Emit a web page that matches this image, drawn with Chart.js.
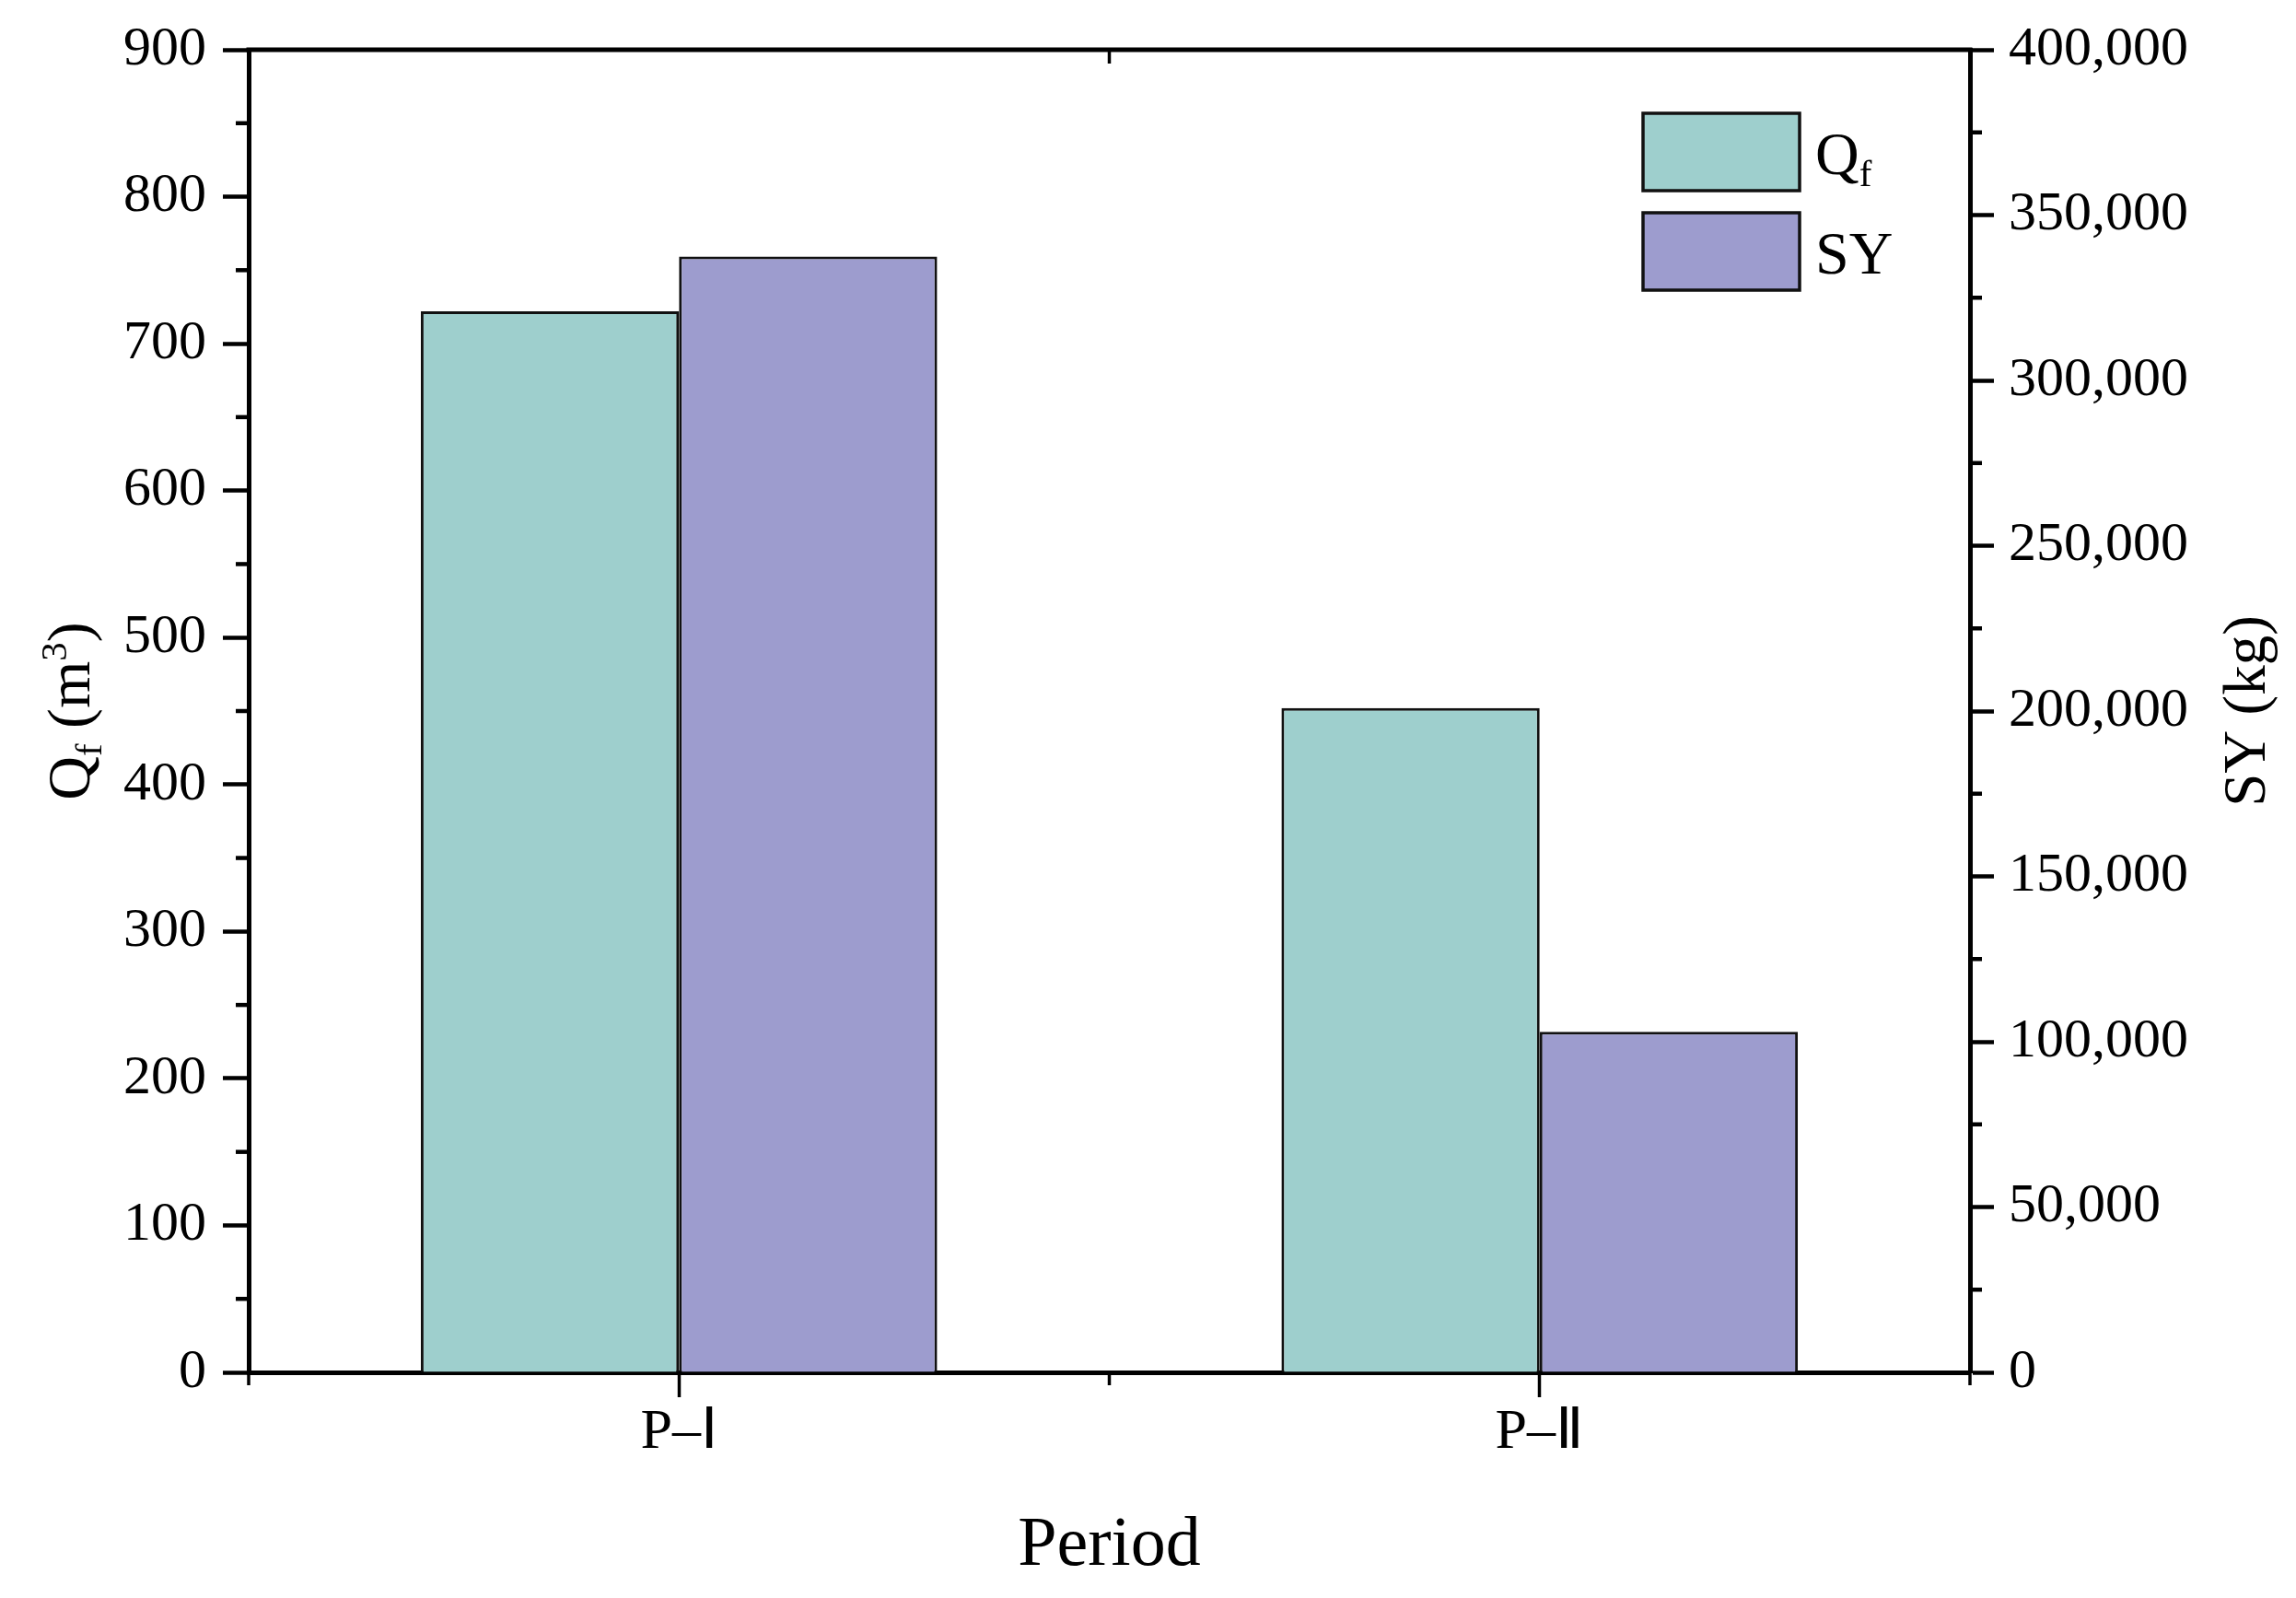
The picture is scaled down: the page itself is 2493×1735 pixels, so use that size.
<!DOCTYPE html>
<html lang="en">
<head>
  <meta charset="UTF-8">
  <title>Qf and SY by period</title>
  <script src="https://cdn.jsdelivr.net/npm/chart.js"></script>
  <style>
    body { margin: 0; background: #ffffff; }
    #wrap { width: 2493px; height: 1735px; position: relative; }
  </style>
</head>
<body>
  <div id="wrap"><canvas id="chart"></canvas></div>

  <script>
    // data
    const periods = ['P\u2013\u2160', 'P\u2013\u2161'];
    const qfValues = [722, 452];          // m3
    const syValues = [337500, 103000];    // kg

    // tick values for both value axes
    const qfTicks = [0, 100, 200, 300, 400, 500, 600, 700, 800, 900];
    const qfMinor = [50, 150, 250, 350, 450, 550, 650, 750, 850];
    const syTicks = [0, 50000, 100000, 150000, 200000, 250000, 300000, 350000, 400000];
    const syMinor = [25000, 75000, 125000, 175000, 225000, 275000, 325000, 375000];

    const FONT = '"Liberation Serif", "Times New Roman", serif';
    const TEAL = '#9ecfcd';
    const PURPLE = '#9d9cce';

    function line(ctx, x1, y1, x2, y2) {
      ctx.beginPath();
      ctx.moveTo(x1, y1);
      ctx.lineTo(x2, y2);
      ctx.stroke();
    }

    // text with sub/superscript pieces
    function richWidth(ctx, parts, size) {
      let w = 0;
      parts.forEach(p => {
        ctx.font = `${p.sub || p.sup ? size * 0.62 : size}px ${FONT}`;
        w += ctx.measureText(p.t).width;
      });
      return w;
    }
    function drawRich(ctx, parts, x, y, size) {
      let cx = x;
      parts.forEach(p => {
        ctx.font = `${p.sub || p.sup ? size * 0.62 : size}px ${FONT}`;
        const dy = p.sub ? size * 0.2 : p.sup ? -size * 0.38 : 0;
        ctx.fillText(p.t, cx, y + dy);
        cx += ctx.measureText(p.t).width;
      });
    }

    const qfLabel = [{ t: 'Q' }, { t: 'f', sub: true }];
    const syLabel = [{ t: 'SY' }];
    const qfTitle = [{ t: 'Q' }, { t: 'f', sub: true }, { t: ' (m' }, { t: '3', sup: true }, { t: ')' }];

    // minor ticks, top frame, axis titles and legend
    const decor = {
      id: 'decor',
      afterDraw(chart) {
        const { ctx, chartArea: a, scales } = chart;
        ctx.save();
        ctx.strokeStyle = '#000';
        ctx.fillStyle = '#000';

        ctx.lineWidth = 5;
        line(ctx, a.left - 2.5, a.top, a.right + 2.5, a.top);

        ctx.lineWidth = 4.5;
        qfMinor.forEach(v => {
          const y = scales.y.getPixelForValue(v);
          line(ctx, a.left - 14, y, a.left, y);
        });
        syMinor.forEach(v => {
          const y = scales.y1.getPixelForValue(v);
          line(ctx, a.right, y, a.right + 13, y);
        });

        ctx.lineWidth = 3.5;
        const mid = (scales.x.getPixelForTick(0) + scales.x.getPixelForTick(1)) / 2;
        [a.left, mid, a.right].forEach(px => line(ctx, px, a.bottom, px, a.bottom + 14));
        line(ctx, mid, a.top, mid, a.top + 15);

        // x title
        ctx.textAlign = 'center';
        ctx.textBaseline = 'alphabetic';
        ctx.font = `76px ${FONT}`;
        ctx.fillText('Period', (a.left + a.right) / 2, 1699);

        // left title
        ctx.save();
        ctx.translate(97, (a.top + a.bottom) / 2);
        ctx.rotate(-Math.PI / 2);
        ctx.textAlign = 'left';
        drawRich(ctx, qfTitle, -richWidth(ctx, qfTitle, 66) / 2, 0, 66);
        ctx.restore();

        // right title
        ctx.save();
        ctx.translate(2459, (a.top + a.bottom) / 2);
        ctx.rotate(-Math.PI / 2);
        ctx.textAlign = 'center';
        ctx.font = `65px ${FONT}`;
        ctx.fillText('SY (kg)', 0, 0);
        ctx.restore();

        // legend
        const boxX = a.right - 355, boxW = 170, boxH = 84;
        ctx.textAlign = 'left';
        chart.data.datasets.forEach((ds, i) => {
          const top = a.top + 69 + i * 108;
          ctx.fillStyle = ds.backgroundColor;
          ctx.fillRect(boxX, top, boxW, boxH);
          ctx.lineWidth = 3.5;
          ctx.strokeStyle = '#111';
          ctx.strokeRect(boxX, top, boxW, boxH);
          ctx.fillStyle = '#000';
          drawRich(ctx, i === 0 ? qfLabel : syLabel, boxX + boxW + 17, top + boxH / 2 + 24, 66);
        });

        ctx.restore();
      }
    };

    const tickFont = { family: FONT, size: 60 };

    new Chart(document.getElementById('chart'), {
      type: 'bar',
      data: {
        labels: periods,
        datasets: [
          {
            label: 'Qf',
            data: qfValues,
            yAxisID: 'y',
            backgroundColor: TEAL,
            borderColor: '#111',
            borderWidth: 3
          },
          {
            label: 'SY',
            data: syValues,
            yAxisID: 'y1',
            backgroundColor: PURPLE,
            borderColor: '#111',
            borderWidth: 3
          }
        ]
      },
      options: {
        responsive: true,
        maintainAspectRatio: false,
        animation: false,
        layout: { padding: { top: 52, left: 0, right: 0, bottom: 0 } },
        datasets: { bar: { categoryPercentage: 0.6, barPercentage: 1.0 } },
        plugins: { legend: { display: false }, tooltip: { enabled: false } },
        scales: {
          x: {
            offset: true,
            grid: { offset: false, drawOnChartArea: false, tickLength: 27, tickWidth: 3.5, tickColor: '#000' },
            border: { color: '#000', width: 5 },
            ticks: { font: { family: FONT, size: 62 }, color: '#000', padding: 2, maxRotation: 0 },
            afterFit: s => { s.height = 245; }
          },
          y: {
            position: 'left',
            min: 0,
            max: 900,
            afterBuildTicks: s => { s.ticks = qfTicks.map(v => ({ value: v })); },
            grid: { drawOnChartArea: false, tickLength: 28, tickWidth: 4.5, tickColor: '#000' },
            border: { color: '#000', width: 5 },
            ticks: { font: tickFont, color: '#000', padding: 18 },
            afterFit: s => { s.width = 270; }
          },
          y1: {
            position: 'right',
            min: 0,
            max: 400000,
            afterBuildTicks: s => { s.ticks = syTicks.map(v => ({ value: v })); },
            grid: { drawOnChartArea: false, tickLength: 26, tickWidth: 4.5, tickColor: '#000' },
            border: { color: '#000', width: 5 },
            ticks: {
              font: tickFont,
              color: '#000',
              padding: 16,
              callback: v => v.toLocaleString('en-US')
            },
            afterFit: s => { s.width = 354; }
          }
        }
      },
      plugins: [decor]
    });
  </script>
</body>
</html>
